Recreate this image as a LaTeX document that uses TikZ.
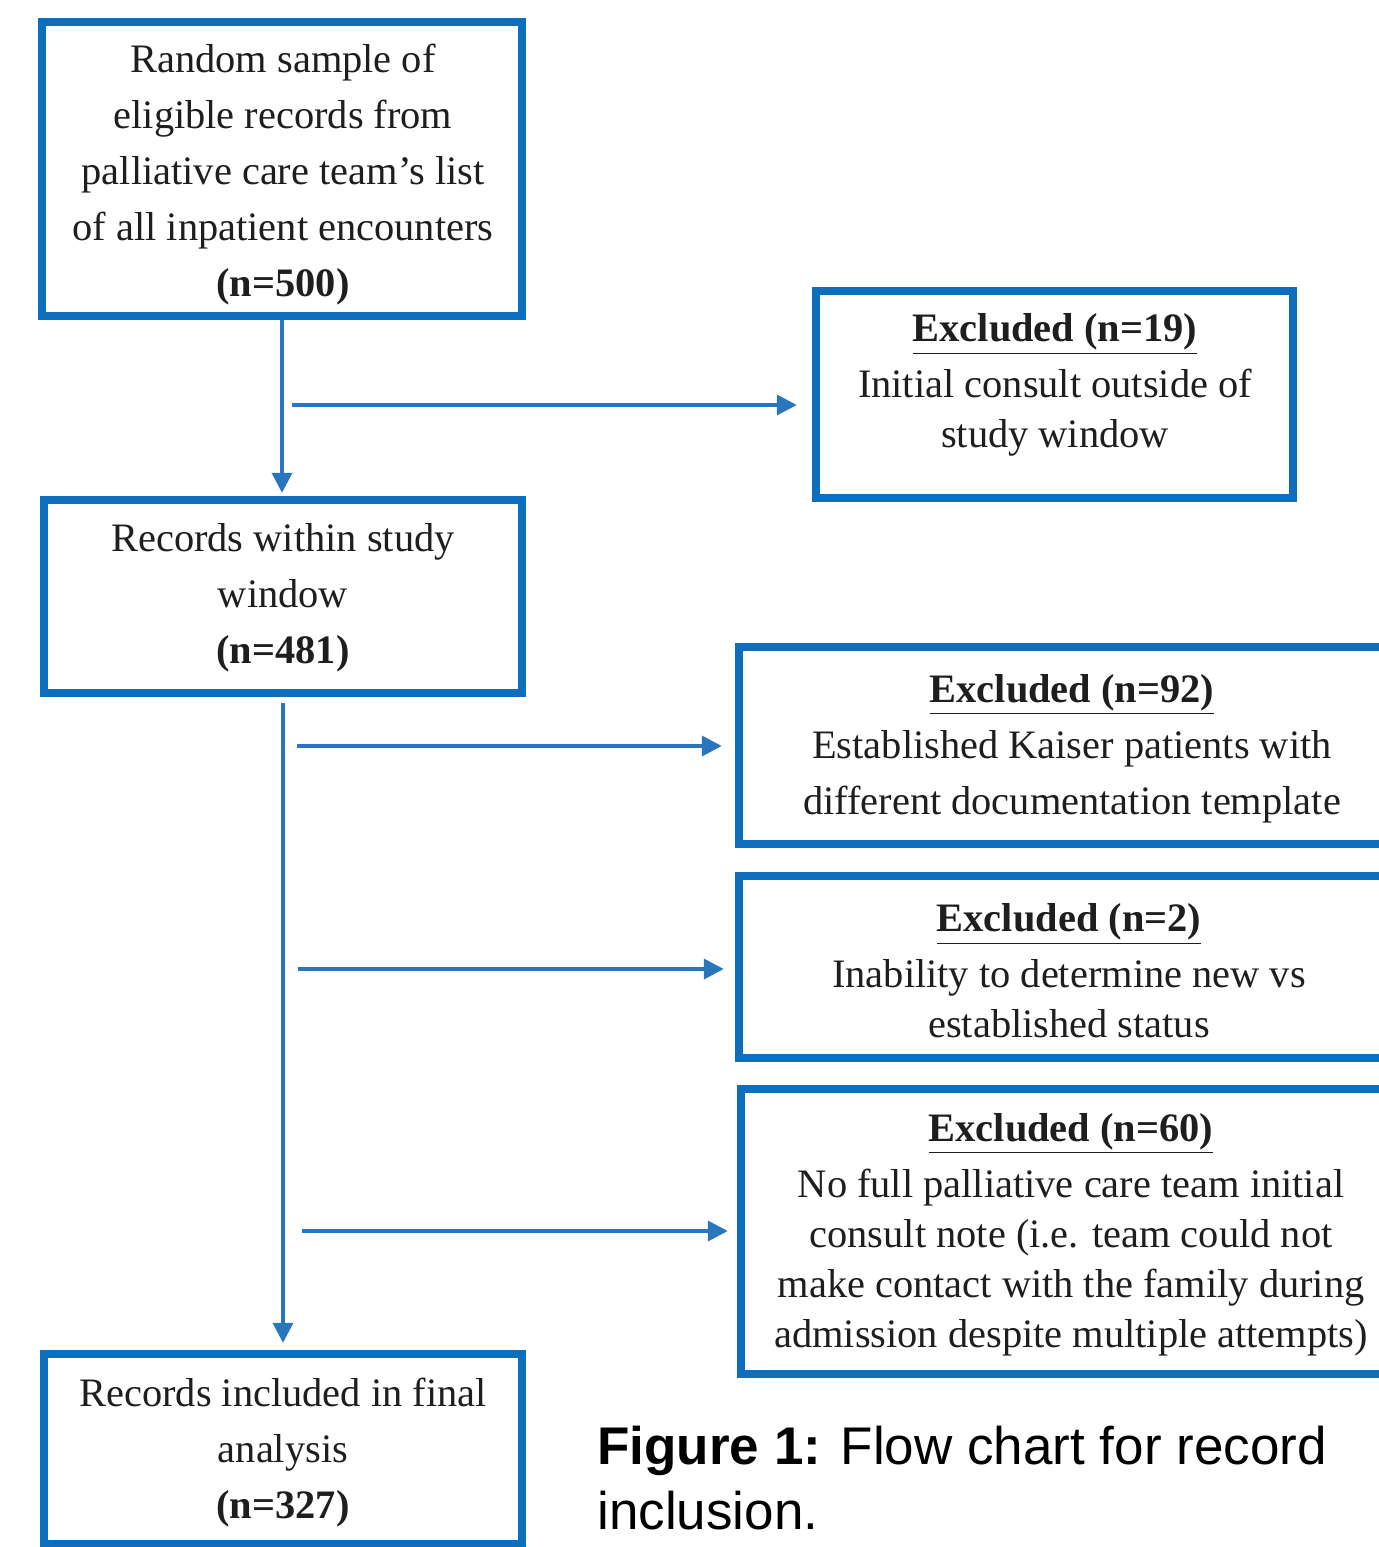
\documentclass[tikz,border=0pt]{standalone}
\usepackage{fontspec}
\setmainfont{Liberation Serif}
\newfontfamily\capfont{Liberation Sans}
\usetikzlibrary{arrows.meta}
\definecolor{boxblue}{RGB}{14,110,190}
\definecolor{arrblue}{RGB}{42,118,190}
\definecolor{txt}{RGB}{30,30,30}
\tikzset{
  flowbox/.style={draw=boxblue, line width=4.2pt, rectangle, inner sep=0pt, fill=none},
  boxtext/.style={inner sep=0pt, align=center, text=txt, font=\fontsize{20.2}{28}\selectfont},
  exctext/.style={inner sep=0pt, align=center, text=txt, font=\fontsize{20.2}{25}\selectfont},
  arr/.style={draw=arrblue, line width=1.8pt, -{Triangle[length=10pt,width=10pt]}},
}
\begin{document}
\begin{tikzpicture}[x=0.5pt,y=-0.5pt]
\useasboundingbox (0,0) rectangle (1378,1547);
% boxes
\node[flowbox, minimum width=240pt, minimum height=147pt] (b1) at (282,169) {};
\node[flowbox, minimum width=239pt, minimum height=96.5pt] (b2) at (283,596.5) {};
\node[flowbox, minimum width=239pt, minimum height=95pt] (b3) at (283,1449) {};
\node[flowbox, minimum width=238.5pt, minimum height=103.5pt] (e19) at (1054.5,394.5) {};
\node[flowbox, minimum width=333pt, minimum height=98.5pt] (e92) at (1072,745.5) {};
\node[flowbox, minimum width=330.5pt, minimum height=91pt] (e2) at (1069.5,967) {};
\node[flowbox, minimum width=330pt, minimum height=142.5pt] (e60) at (1071,1231.5) {};
% texts
\node[boxtext] (t1) at (283,175) {Random sample of\\eligible records from\\palliative care team's list\\of all inpatient encounters\\\textbf{(n=500)}};
\node[boxtext] (t2) at (283,597.5) {Records within study\\window\\\textbf{(n=481)}};
\node[boxtext] (t3) at (283,1453) {Records included in final\\analysis\\\textbf{(n=327)}};
\node[exctext] (t19) at (1055,385) {\underline{\textbf{Excluded (n=19)}}\\[3pt]Initial consult outside of\\study window};
\node[boxtext] (t92) at (1072,748.5) {\underline{\textbf{Excluded (n=92)}}\\Established Kaiser patients with\\different documentation template};
\node[exctext] (t2x) at (1069,971) {\underline{\textbf{Excluded (n=2)}}\\[3pt]Inability to determine new vs\\established status};
\node[exctext] (t60) at (1071,1234.5) {\underline{\textbf{Excluded (n=60)}}\\[3pt]No full palliative care team initial\\consult note (i.e. team could not\\make contact with the family during\\admission despite multiple attempts)};
% caption
\node[inner sep=0pt, anchor=north west, align=left, text=black, font=\capfont\fontsize{26.5}{32.5}\selectfont] (cap) at (597,1426) {\textbf{Figure 1:} Flow chart for record\\inclusion.};
% connectors
\coordinate (h1) at (292,405);
\coordinate (h2) at (297,746);
\coordinate (h3) at (298,969);
\coordinate (h4) at (302,1231);
\draw[arr, shorten >=1.5pt] (b1.south) -- (b1.south |- b2.north);
\draw[arr, shorten <=3pt, shorten >=3.5pt] (b2.south) -- (b2.south |- b3.north);
\draw[arr, shorten >=7.5pt] (h1) -- (h1 -| e19.west);
\draw[arr, shorten >=6.5pt] (h2) -- (h2 -| e92.west);
\draw[arr, shorten >=5.5pt] (h3) -- (h3 -| e2.west);
\draw[arr, shorten >=4.5pt] (h4) -- (h4 -| e60.west);
\end{tikzpicture}
\end{document}
